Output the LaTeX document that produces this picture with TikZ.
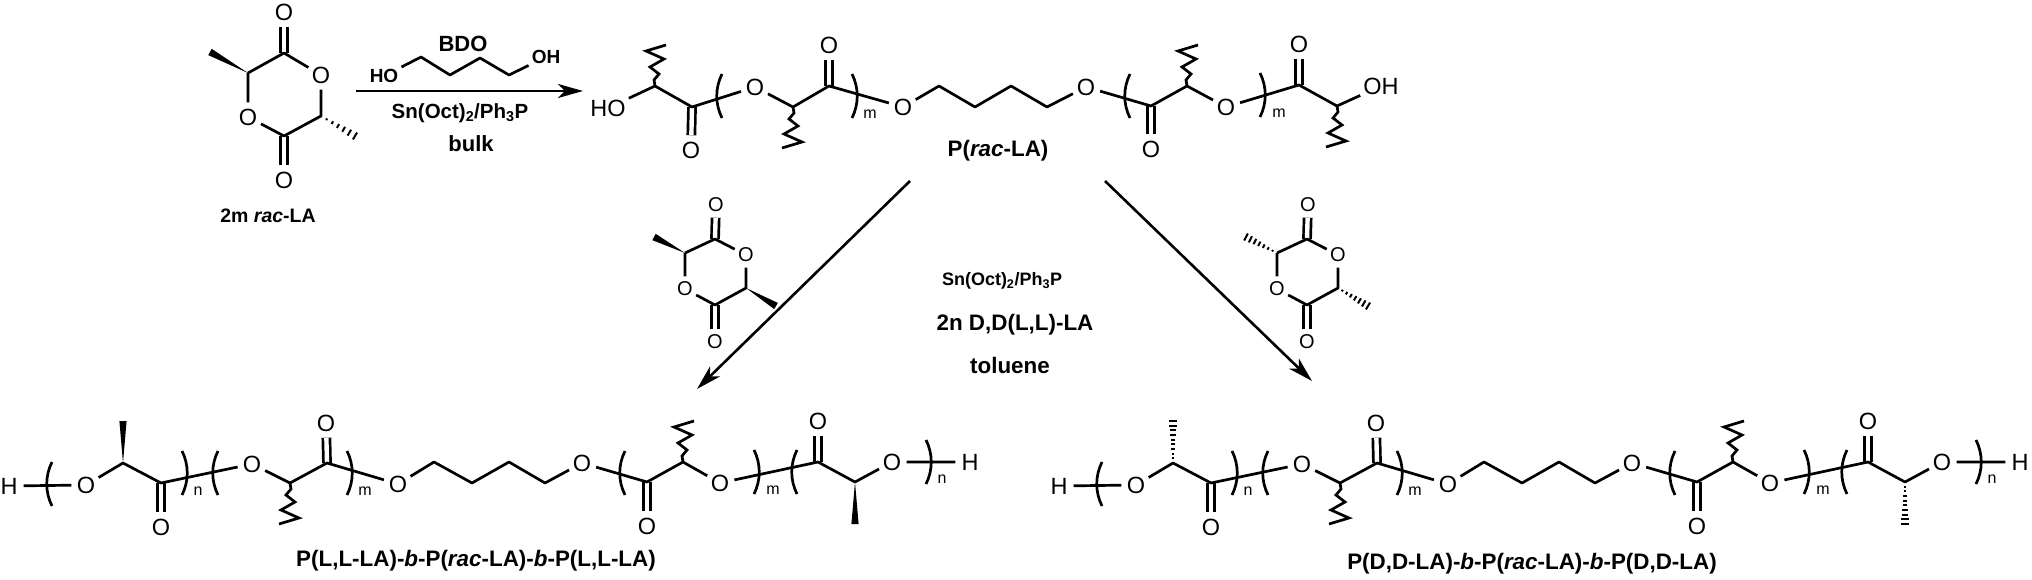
\documentclass[tikz,border=0pt]{standalone}
\usepackage{fontspec}
\setmainfont{Liberation Sans}
\usetikzlibrary{arrows.meta,calc}

% stereo and wavy bonds, brackets
\newcommand{\wedgebond}[2]{\fill (#1) -- ($(#2)!3.6pt!90:(#1)$) -- ($(#2)!3.6pt!-90:(#1)$) -- cycle;}
\newcommand{\hashbond}[3]{\foreach \i in {1,...,#3}{
		\pgfmathsetmacro{\hasht}{\i/#3}
		\pgfmathsetmacro{\hashw}{0.4+\hasht*3.6}
		\coordinate (hashpt) at ($(#1)!\hasht!(#2)$);
		\draw[line width=2pt] ($(hashpt)!\hashw pt!90:(#1)$) -- ($(hashpt)!\hashw pt!-90:(#1)$);
	}}
\newcommand{\wavybond}[2]{\draw[bond,line join=miter] (#1) -- ($(#1)+#2*(-1,-6)$) -- ($(#1)+#2*(4,-12)$) -- ($(#1)+#2*(-5,-19)$) -- ($(#1)+#2*(9,-27)$) -- ($(#1)+#2*(-9,-35)$) -- ($(#1)+#2*(11,-41)$);}
\newcommand{\polybracket}[3]{\draw[bond] (#1,{#2-22}) .. controls ({#1+#3*7},{#2-8}) and ({#1+#3*7},{#2+8}) .. (#1,{#2+22});}

% lactide used above the two lower arrows
\newcommand{\smalllactide}[3]{
	\node[atomsmall] (#1ot) at (716,205) {O};
	\node[atomsmall] (#1or) at (746,255) {O};
	\node[atomsmall] (#1ol) at (685,289) {O};
	\node[atomsmall] (#1ob) at (715,342) {O};
	\coordinate (#1ca) at (715,239);
	\coordinate (#1cb) at (746,288);
	\coordinate (#1cc) at (715,305);
	\coordinate (#1cd) at (685,253);
	\coordinate (#1me) at (654,237);
	\coordinate (#1mf) at (776,306);
	\draw[dbond] (#1ca) -- (#1ot);
	\draw[dbond] (#1cc) -- (#1ob);
	\draw[bond] (#1cd) -- (#1ca) -- (#1or) -- (#1cb) -- (#1cc) -- (#1ol) -- (#1cd);
	#2{#1cd}{#1me}
	#3{#1cb}{#1mf}
}

% lower triblock chain, #2 is the stereo bond of its end units
\newcommand{\triblock}[2]{
	\node[atom] (#1ha) at (9,486) {H};
	\node[atom] (#1oa) at (86,485) {O};
	\coordinate (#1ca) at (123,463);
	\coordinate (#1ma) at (123,421);
	\coordinate (#1cb) at (161,483);
	\node[atom] (#1ob) at (161,527) {O};
	\node[atom] (#1oc) at (252,464) {O};
	\coordinate (#1cd) at (290,483);
	\coordinate (#1ce) at (327,463);
	\node[atom] (#1oe) at (326,423) {O};
	\node[atom] (#1of) at (398,484) {O};
	\coordinate (#1cg) at (434,462);
	\coordinate (#1ch) at (472,483);
	\coordinate (#1ci) at (509,462);
	\coordinate (#1cj) at (545,483);
	\node[atom] (#1ok) at (582,463) {O};
	\coordinate (#1cl) at (647,482);
	\node[atom] (#1ol) at (647,526) {O};
	\coordinate (#1cm) at (683,462);
	\node[atom] (#1on) at (720,483) {O};
	\coordinate (#1cp) at (818,462);
	\node[atom] (#1op) at (818,421) {O};
	\coordinate (#1cq) at (855,482);
	\coordinate (#1mq) at (855,524);
	\node[atom] (#1or) at (892,462) {O};
	\node[atom] (#1hb) at (970,462) {H};
	\draw[dbond] (#1cb) -- (#1ob);
	\draw[dbond] (#1ce) -- (#1oe);
	\draw[dbond] (#1cl) -- (#1ol);
	\draw[dbond] (#1cp) -- (#1op);
	\draw[bond] (#1ha) -- (#1oa) -- (#1ca) -- (#1cb) -- (#1oc) -- (#1cd) -- (#1ce) -- (#1of) -- (#1cg) -- (#1ch) -- (#1ci) -- (#1cj) -- (#1ok) -- (#1cl) -- (#1cm) -- (#1on) -- (#1cp) -- (#1cq) -- (#1or) -- (#1hb);
	#2{#1ca}{#1ma}
	#2{#1cq}{#1mq}
	\wavybond{#1cd}{-1}
	\wavybond{#1cm}{1}
	\polybracket{52}{484}{-1}
	\polybracket{182}{473}{1}
	\polybracket{218}{473}{-1}
	\polybracket{347}{473}{1}
	\polybracket{625}{473}{-1}
	\polybracket{754}{472}{1}
	\polybracket{797}{472}{-1}
	\polybracket{926}{462}{1}
	\node[idx] (#1na) at (198,491) {n};
	\node[idx] (#1mi) at (365,491) {m};
	\node[idx] (#1mj) at (773,490) {m};
	\node[idx] (#1nb) at (942,479) {n};
}
\newcommand{\hashnine}[2]{\hashbond{#1}{#2}{9}}
\newcommand{\hashseven}[2]{\hashbond{#1}{#2}{7}}

\begin{document}
\begin{tikzpicture}[x=1pt,y=-1pt,
		bond/.style={line width=2.7pt,line join=round},
		dbond/.style={line width=2.7pt,double,double distance=4.4pt},
		rxn/.style={line width=2.6pt,-{Stealth[length=25pt,width=14pt,inset=7pt]}},
		atom/.style={circle,inner sep=0pt,minimum size=29pt,font=\fontsize{23.5}{23.5}\selectfont},
		atomsmall/.style={circle,inner sep=0pt,minimum size=25pt,font=\fontsize{20}{20}\selectfont},
		atomtext/.style={rectangle,inner sep=3pt,font=\fontsize{23.5}{23.5}\selectfont},
		idx/.style={inner sep=0pt,font=\fontsize{16}{16}\selectfont},
		lab/.style={inner sep=0pt,font=\bfseries\fontsize{22.4}{22.4}\selectfont},
		labsmall/.style={inner sep=0pt,font=\bfseries\fontsize{18}{18}\selectfont}]
	\useasboundingbox (0,0) rectangle (2032,580);
	
	% rac-lactide monomer
	\node[atom] (mot) at (284,12) {O};
	\node[atom] (mor) at (321,75) {O};
	\node[atom] (mol) at (248,117) {O};
	\node[atom] (mob) at (284,180) {O};
	\coordinate (mca) at (284,53);
	\coordinate (mcb) at (321,116);
	\coordinate (mcc) at (284,136);
	\coordinate (mcd) at (248,73);
	\coordinate (mme) at (210,52);
	\coordinate (mmf) at (355,136);
	\draw[dbond] (mca) -- (mot);
	\draw[dbond] (mcc) -- (mob);
	\draw[bond] (mcd) -- (mca) -- (mor) -- (mcb) -- (mcc) -- (mol) -- (mcd);
	\wedgebond{mcd}{mme}
	\hashbond{mcb}{mmf}{6}
	\node[lab,font=\bfseries\fontsize{19.5}{19.5}\selectfont] (monolab) at (268,216) {2m \textit{rac}-LA};
	
	% first step, butanediol above the arrow
	\node[lab,font=\bfseries\fontsize{22}{22}\selectfont] (bdolab) at (463,44) {BDO};
	\node[atomtext,font=\bfseries\fontsize{19}{19}\selectfont] (bho) at (384,76) {HO};
	\node[atomtext,font=\bfseries\fontsize{19}{19}\selectfont] (boh) at (546,57) {OH};
	\coordinate (bca) at (421,57);
	\coordinate (bcb) at (450,75);
	\coordinate (bcc) at (480,58);
	\coordinate (bcd) at (509,75);
	\draw[bond] (bho) -- (bca) -- (bcb) -- (bcc) -- (bcd) -- (boh);
	\coordinate (arra) at (356,91);
	\coordinate (arrb) at (583,91);
	\draw[rxn] (arra) -- (arrb);
	\node[lab,font=\bfseries\fontsize{20.5}{20.5}\selectfont] (catlab) at (460,113) {Sn(Oct)\textsubscript{2}/Ph\textsubscript{3}P};
	\node[lab,font=\bfseries\fontsize{22}{22}\selectfont] (bulklab) at (471,144) {bulk};
	
	% P(rac-LA)
	\node[atomtext] (tho) at (608,108) {HO};
	\coordinate (tca) at (655,86);
	\coordinate (tcb) at (692,107);
	\node[atom] (tob) at (691,150) {O};
	\node[atom] (toc) at (755,87) {O};
	\coordinate (tcd) at (793,107);
	\coordinate (tce) at (829,86);
	\node[atom] (toe) at (829,45) {O};
	\node[atom] (tof) at (903,107) {O};
	\coordinate (tcg) at (939,86);
	\coordinate (tch) at (975,107);
	\coordinate (tci) at (1011,86);
	\coordinate (tcj) at (1047,107);
	\node[atom] (tok) at (1086,87) {O};
	\coordinate (tcl) at (1151,106);
	\node[atom] (tol) at (1151,149) {O};
	\coordinate (tcm) at (1187,86);
	\node[atom] (ton) at (1226,107) {O};
	\coordinate (tcp) at (1299,85);
	\node[atom] (top) at (1299,44) {O};
	\coordinate (tcq) at (1337,106);
	\node[atomtext] (toh) at (1381,86) {OH};
	\draw[dbond] (tcb) -- (tob);
	\draw[dbond] (tce) -- (toe);
	\draw[dbond] (tcl) -- (tol);
	\draw[dbond] (tcp) -- (top);
	\draw[bond] (tho) -- (tca) -- (tcb) -- (toc) -- (tcd) -- (tce) -- (tof) -- (tcg) -- (tch) -- (tci) -- (tcj) -- (tok) -- (tcl) -- (tcm) -- (ton) -- (tcp) -- (tcq) -- (toh);
	\wavybond{tca}{1}
	\wavybond{tcd}{-1}
	\wavybond{tcm}{1}
	\wavybond{tcq}{-1}
	\polybracket{722}{96}{-1}
	\polybracket{852}{96}{1}
	\polybracket{1130}{96}{-1}
	\polybracket{1260}{95}{1}
	\node[idx] (tma) at (870,114) {m};
	\node[idx] (tmb) at (1279,113) {m};
	\node[lab] (toplab) at (998,151) {P(\textit{rac}-LA)};
	
	% lower arrows and the lactides beside them
	\coordinate (arrc) at (910,181);
	\coordinate (arrd) at (697,389);
	\coordinate (arre) at (1105,181);
	\coordinate (arrf) at (1312,381);
	\draw[rxn] (arrc) -- (arrd);
	\draw[rxn] (arre) -- (arrf);
	\smalllactide{l}{\wedgebond}{\wedgebond}
	\begin{scope}[xshift=592pt]
		\smalllactide{d}{\hashseven}{\hashseven}
	\end{scope}
	\node[labsmall] (catlabb) at (1002,281) {Sn(Oct)\textsubscript{2}/Ph\textsubscript{3}P};
	\node[lab] (monolabb) at (1015,325) {2n D,D(L,L)-LA};
	\node[lab] (sollab) at (1010,365) {toluene};
	
	% triblock products
	\triblock{a}{\wedgebond}
	\begin{scope}[xshift=1050pt]
		\triblock{b}{\hashnine}
	\end{scope}
	\node[lab] (lllab) at (476,561) {P(L,L-LA)-\textit{b}-P(\textit{rac}-LA)-\textit{b}-P(L,L-LA)};
	\node[lab] (ddlab) at (1532,564) {P(D,D-LA)-\textit{b}-P(\textit{rac}-LA)-\textit{b}-P(D,D-LA)};
\end{tikzpicture}
\end{document}
